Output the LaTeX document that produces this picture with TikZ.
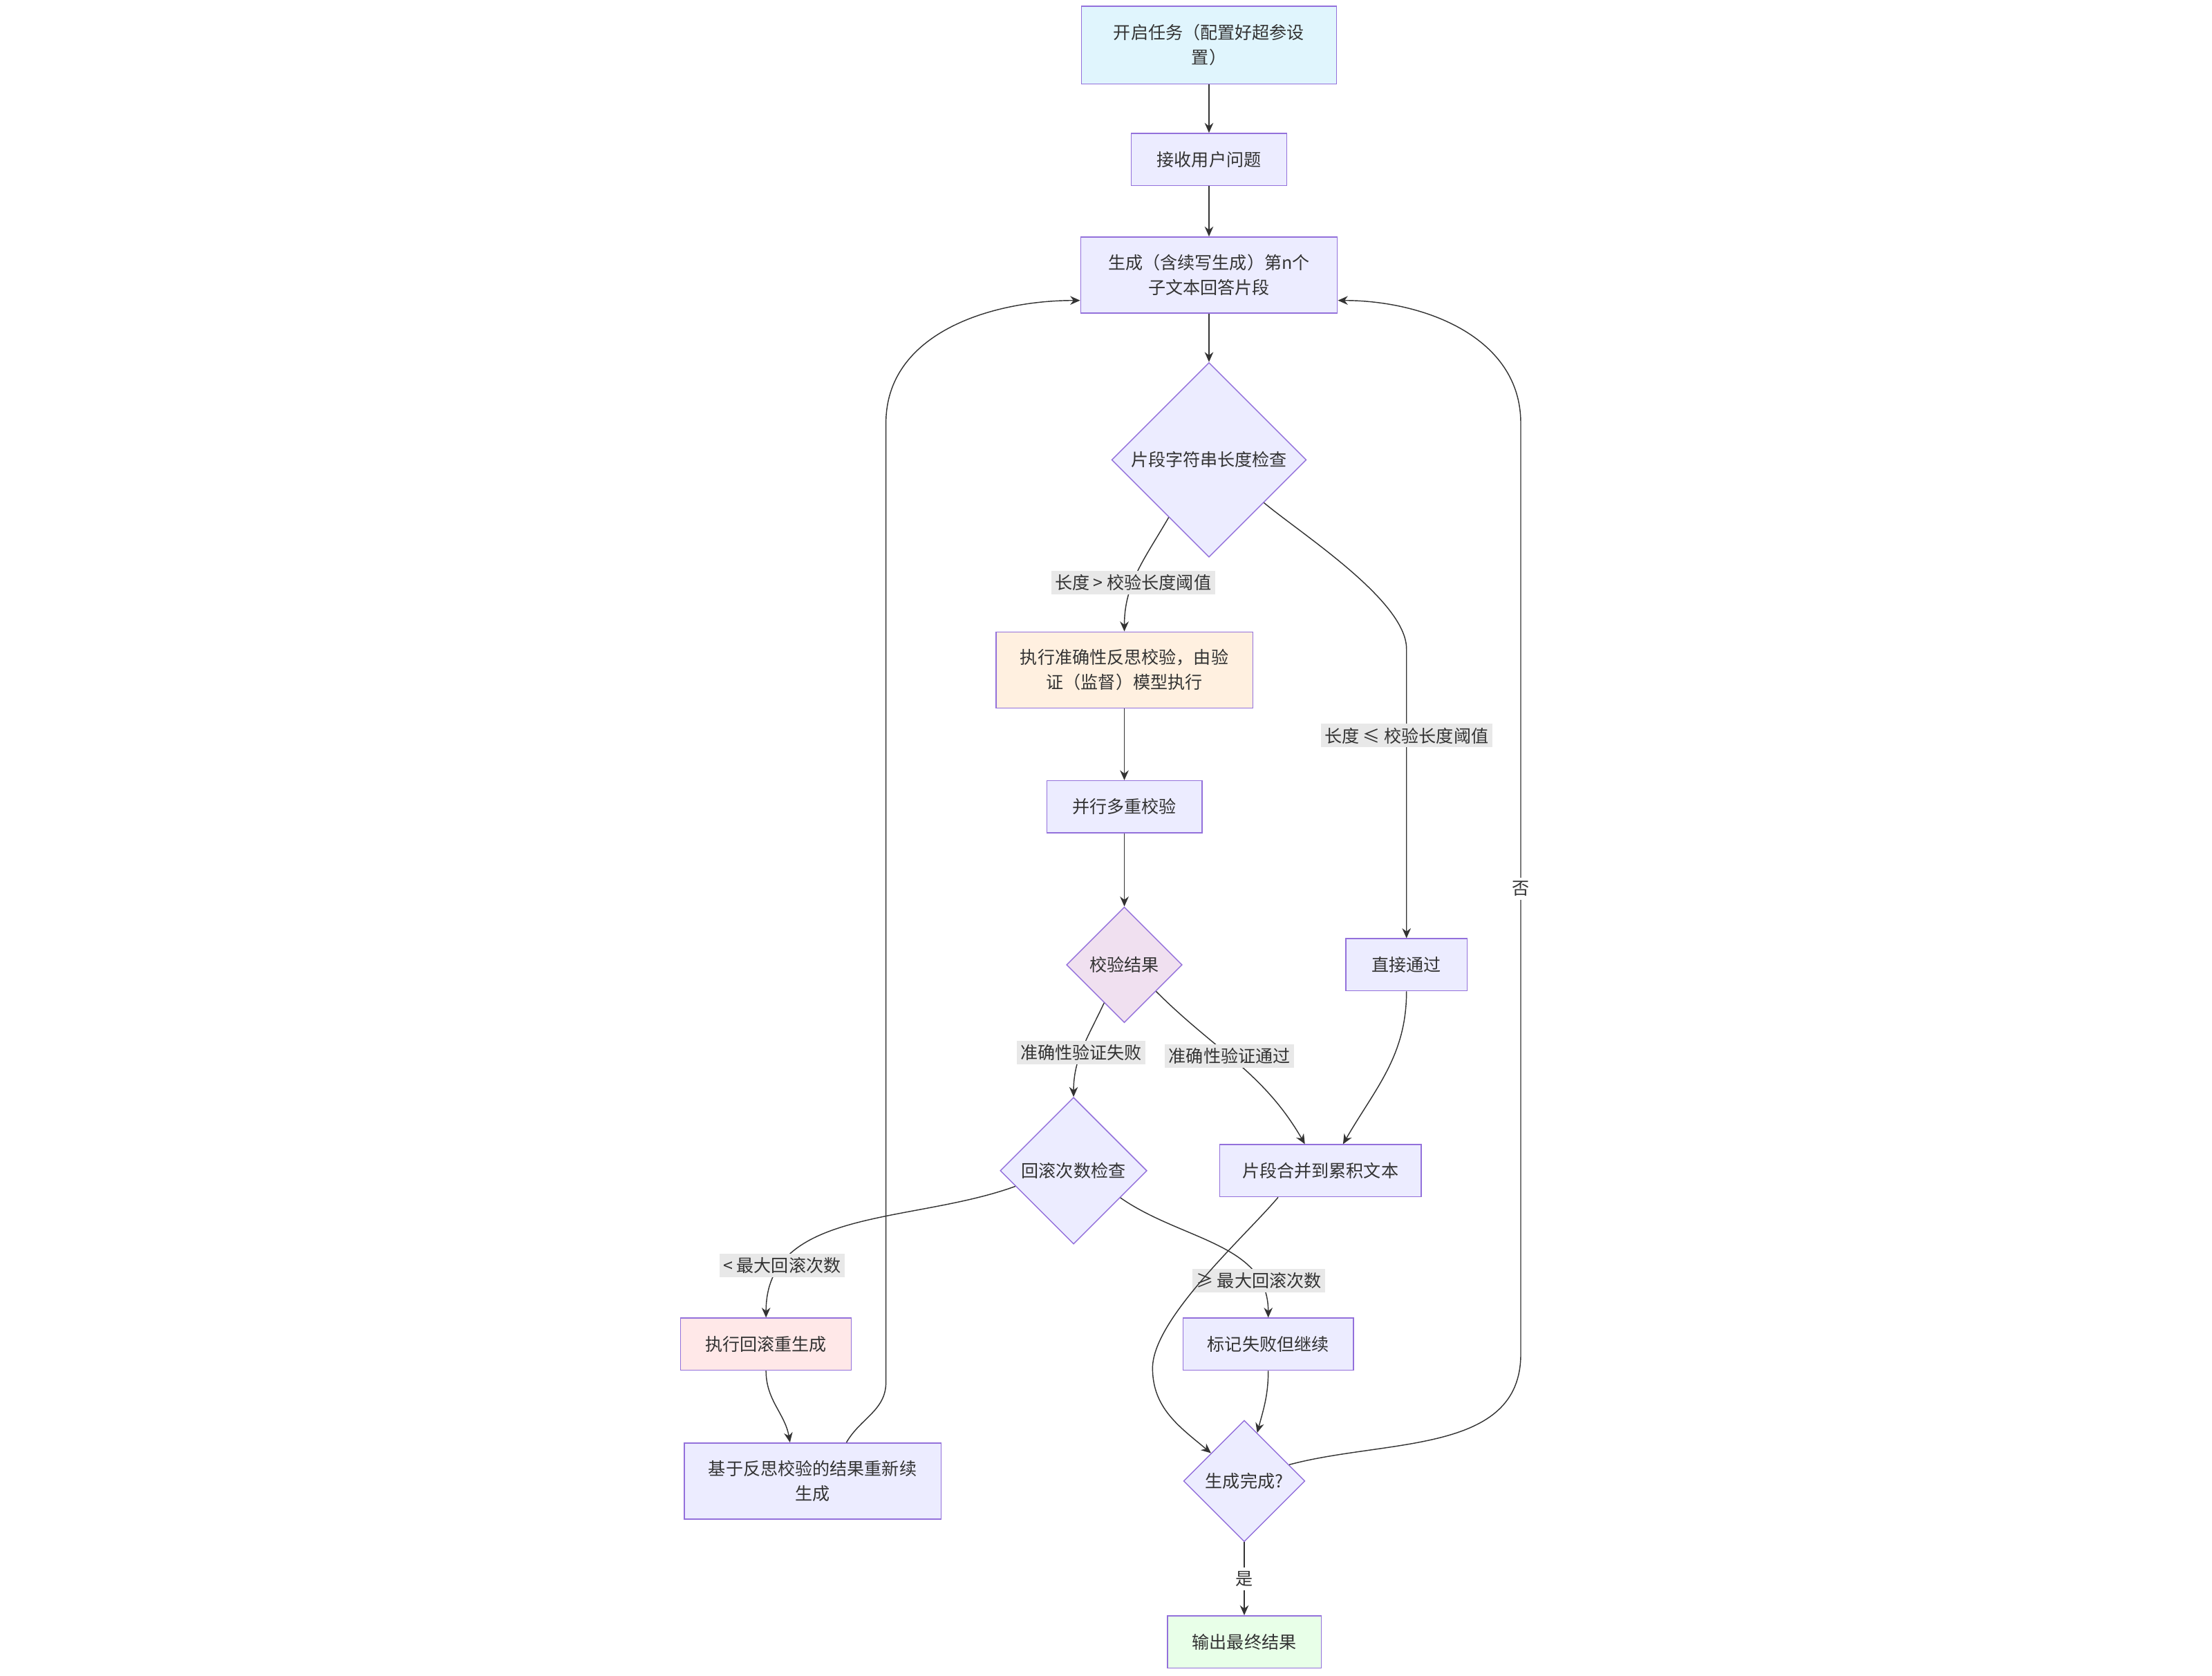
\documentclass[tikz,border=0pt]{standalone}
\usepackage{fontspec}
\setmainfont{Noto Sans CJK SC}
\usetikzlibrary{shapes.geometric,arrows.meta}
\definecolor{edge}{HTML}{9370DB}
\definecolor{boxfill}{HTML}{ECECFF}
\definecolor{line}{HTML}{333333}
\tikzset{
  box/.style={draw=edge,fill=boxfill,minimum width=#1,minimum height=37*0.02cm,inner sep=0pt,align=center,text=line},
  box/.default=2.2cm,
  dia/.style={diamond,draw=edge,fill=boxfill,minimum width=#1,minimum height=#1,inner sep=0pt,aspect=1,text=line},
  lbl/.style={fill=black!9,inner sep=1.5pt,text=line},
  conn/.style={draw=line,-{Stealth[length=4pt,width=3.5pt]}},
}
\begin{document}
\begin{tikzpicture}[x=0.02cm,y=-0.02cm,font=\fontsize{7}{10}\selectfont]
\useasboundingbox (0,0) rectangle (1568,1188);
% nodes
\node[box=181*0.02cm,minimum height=55*0.02cm,fill=cyan!12] (start) at (857,32) {开启任务（配置好超参设\\置）};
\node[box=110*0.02cm] (recv) at (857,113) {接收用户问题};
\node[box=182*0.02cm,minimum height=54*0.02cm] (gen) at (857,195) {生成（含续写生成）第n个\\子文本回答片段};
\node[dia=138*0.02cm] (chkLen) at (857,326) {片段字符串长度检查};
\node[box=182*0.02cm,minimum height=54*0.02cm,fill=orange!12] (reflect) at (797,475) {执行准确性反思校验，由验\\证（监督）模型执行};
\node[box=110*0.02cm] (multi) at (797,572) {并行多重校验};
\node[dia=82*0.02cm,fill=violet!12] (result) at (797,684) {校验结果};
\node[box=86*0.02cm] (direct) at (997,684) {直接通过};
\node[dia=104*0.02cm] (chkRoll) at (761,830) {回滚次数检查};
\node[box=143*0.02cm] (merge) at (936,830) {片段合并到累积文本};
\node[box=121*0.02cm,fill=red!9] (rollback) at (543,953) {执行回滚重生成};
\node[box=121*0.02cm] (mark) at (899,953) {标记失败但继续};
\node[box=182*0.02cm,minimum height=54*0.02cm] (regen) at (576,1050) {基于反思校验的结果重新续\\生成};
\node[dia=86*0.02cm] (done) at (882,1050) {生成完成?};
\node[box=109*0.02cm,fill=green!9] (out) at (882,1164) {输出最终结果};
% helper points
\coordinate (rTop) at (1078,300);
\coordinate (rBot) at (1078,960);
\coordinate (lTop) at (628,300);
\coordinate (lBot) at (628,980);
% edges
\draw[conn] (start) -- (recv);
\draw[conn] (recv) -- (gen);
\draw[conn] (gen) -- (chkLen);
\draw[conn] (chkLen.-125) to[out=-120,in=90] node[lbl,pos=0.6]{长度 > 校验长度阈值} (reflect.north);
\draw[conn] (chkLen.-38) to[out=-40,in=90,looseness=0.6] (997,460) -- node[lbl,pos=0.3]{长度 ≤ 校验长度阈值} (direct.north);
\draw[conn] (reflect) -- (multi);
\draw[conn] (multi) -- (result);
\draw[conn] (result.-118) to[out=-115,in=90] node[lbl,pos=0.55]{准确性验证失败} (chkRoll.north);
\draw[conn] (result.-40) to[out=-45,in=120] node[lbl,pos=0.45]{准确性验证通过} ([xshift=-11*0.02cm]merge.north);
\draw[conn] (direct.south) to[out=-90,in=60] ([xshift=16*0.02cm]merge.north);
\draw[conn] (chkRoll.-165) to[out=-160,in=90] node[lbl,pos=0.8]{< 最大回滚次数} (rollback.north);
\draw[conn] (chkRoll.-30) to[out=-35,in=90] node[lbl,pos=0.8]{≥ 最大回滚次数} (mark.north);
\draw[conn] (rollback.south) to[out=-90,in=100] ([xshift=-16*0.02cm]regen.north);
\draw[conn] ([xshift=-30*0.02cm]merge.south) to[out=-130,in=90,looseness=0.6] (817,970) to[out=-90,in=140] (done.140);
\draw[conn] (mark.south) to[out=-90,in=75] (done.75);
\draw[conn] (done) -- node[lbl,fill=white]{是} (out);
\draw[conn] (done.20) to[out=15,in=-90] (rBot) -- node[lbl,fill=white]{否} (rTop) to[out=90,in=0] ([yshift=-18*0.02cm]gen.east);
\draw[conn] ([xshift=24*0.02cm]regen.north) to[out=60,in=-90] (lBot) -- (lTop) to[out=90,in=180] ([yshift=-18*0.02cm]gen.west);
\end{tikzpicture}
\end{document}
